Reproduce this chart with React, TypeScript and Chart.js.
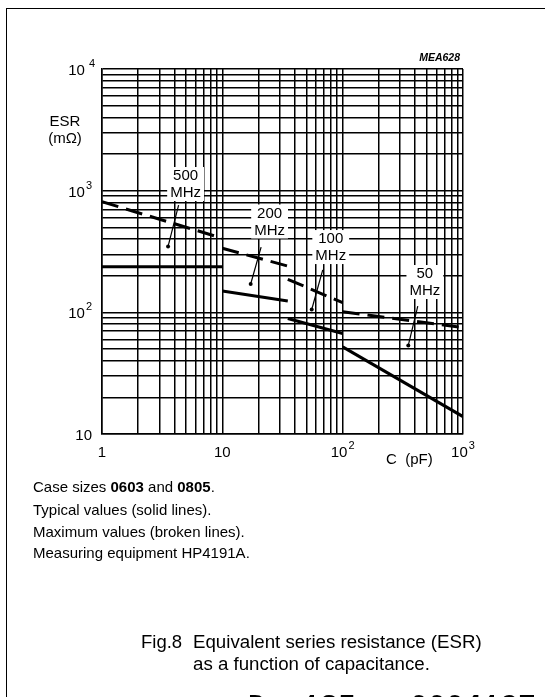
import React, { useEffect, useRef } from 'react';
import { Chart, registerables } from 'chart.js';

Chart.register(...registerables);

// ---------- data ----------
const seriesLabels = ['500 MHz', '200 MHz', '100 MHz', '50 MHz'];
const capacitanceSegments = [[1, 10], [10, 35], [35, 100], [100, 1000]];
const typicalESR = [[237, 237], [150, 124], [89, 67], [52, 13.9]];
const maximumESR = [[811, 406], [336, 240], [187, 120], [101, 75]];

const xTickValues = [1, 10, 100, 1000];
const xTickBase = ['1', '10', '10', '10'];
const xTickExp = ['', '', '2', '3'];
const yTickValues = [10, 100, 1000, 10000];
const yTickBase = ['10', '10', '10', '10'];
const yTickExp = ['', '2', '3', '4'];

// annotation labels (data coordinates)
const labelC = [4.95, 24.7, 79.6, 482];
const labelESR = [1134, 558, 344, 177.5];
const leaderTopC = [4.33, 21.0, 68.3, 421];
const leaderTopESR = [762, 344, 223, 112.7];
const leaderDotC = [3.54, 17.2, 55.3, 351];
const leaderDotESR = [348, 171, 105.5, 53.4];

const noteLines = [
  ['Case sizes ', '0603', ' and ', '0805', '.'],
  ['Typical values (solid lines).'],
  ['Maximum values (broken lines).'],
  ['Measuring equipment HP4191A.'],
];

const FONT = '"Liberation Sans", Arial, Helvetica, sans-serif';

function gridValues(minExp: number, maxExp: number) {
  const out: number[] = [];
  for (let e = minExp; e < maxExp; e++) {
    for (let d = 1; d <= 9; d++) out.push(d * Math.pow(10, e));
  }
  out.push(Math.pow(10, maxExp));
  return out;
}

const overlayPlugin = {
  id: 'overlay',
  afterDatasetsDraw(chart: any) {
    const ctx = chart.ctx;
    const xs = chart.scales.x;
    const ys = chart.scales.y;
    ctx.save();
    // annotation labels with leader lines
    for (let i = 0; i < seriesLabels.length; i++) {
      const [num, unit] = seriesLabels[i].split(' ');
      const cx = xs.getPixelForValue(labelC[i]);
      const cy = ys.getPixelForValue(labelESR[i]);
      ctx.font = `15px ${FONT}`;
      const w = Math.max(ctx.measureText(num).width, ctx.measureText(unit).width) + 6;
      ctx.fillStyle = '#fff';
      ctx.fillRect(cx - w / 2, cy - 17, w, 34);
      ctx.fillStyle = '#000';
      ctx.textAlign = 'center';
      ctx.textBaseline = 'middle';
      ctx.fillText(num, cx, cy - 8);
      ctx.fillText(unit, cx, cy + 9);
      const tx = xs.getPixelForValue(leaderTopC[i]);
      const ty = ys.getPixelForValue(leaderTopESR[i]);
      const dx = xs.getPixelForValue(leaderDotC[i]);
      const dy = ys.getPixelForValue(leaderDotESR[i]);
      ctx.strokeStyle = '#000';
      ctx.lineWidth = 1.2;
      ctx.beginPath();
      ctx.moveTo(tx, ty);
      ctx.lineTo(dx, dy);
      ctx.stroke();
      ctx.beginPath();
      ctx.arc(dx, dy, 2, 0, Math.PI * 2);
      ctx.fill();
    }
    ctx.restore();
  },
  afterDraw(chart: any) {
    const ctx = chart.ctx;
    const xs = chart.scales.x;
    const ys = chart.scales.y;
    ctx.save();
    ctx.fillStyle = '#000';
    ctx.textBaseline = 'middle';
    // x tick labels
    for (let i = 0; i < xTickValues.length; i++) {
      const px = xs.getPixelForValue(xTickValues[i]);
      ctx.font = `15px ${FONT}`;
      const bw = ctx.measureText(xTickBase[i]).width;
      ctx.font = `11px ${FONT}`;
      const ew = xTickExp[i] ? ctx.measureText(xTickExp[i]).width + 1 : 0;
      const left = px - (bw + ew) / 2;
      const y = chart.chartArea.bottom + 19;
      ctx.textAlign = 'left';
      ctx.font = `15px ${FONT}`;
      ctx.fillText(xTickBase[i], left, y);
      if (xTickExp[i]) {
        ctx.font = `11px ${FONT}`;
        ctx.fillText(xTickExp[i], left + bw + 1, y - 7);
      }
    }
    // y tick labels
    for (let i = 0; i < yTickValues.length; i++) {
      const py = ys.getPixelForValue(yTickValues[i]) + 2;
      const right = yTickExp[i] === '4' ? chart.chartArea.left - 7 : chart.chartArea.left - 10;
      ctx.font = `11px ${FONT}`;
      const gap = yTickExp[i] === '4' ? 4 : 1;
      const ew = yTickExp[i] ? ctx.measureText(yTickExp[i]).width + gap : 0;
      ctx.textAlign = 'right';
      if (yTickExp[i]) {
        ctx.fillText(yTickExp[i], right, py - 7);
      }
      ctx.font = `15px ${FONT}`;
      ctx.fillText(yTickBase[i], right - ew, py);
    }
    // axis titles
    ctx.textAlign = 'center';
    ctx.font = `15px ${FONT}`;
    ctx.fillText('ESR', 65, 122);
    ctx.fillText('(m\u03A9)', 65, 139);
    ctx.textAlign = 'left';
    ctx.fillText('C  (pF)', 386, chart.chartArea.bottom + 26);
    ctx.restore();
  },
};

export default function App() {
  const canvasRef = useRef<HTMLCanvasElement | null>(null);

  useEffect(() => {
    if (!canvasRef.current) return;
    const datasets: any[] = [];
    for (let i = 0; i < seriesLabels.length; i++) {
      datasets.push({
        label: seriesLabels[i] + ' typical',
        data: capacitanceSegments[i].map((c, j) => ({ x: c, y: typicalESR[i][j] })),
        borderColor: '#000',
        borderWidth: 3,
        pointRadius: 0,
        fill: false,
        borderCapStyle: 'butt',
      });
      datasets.push({
        label: seriesLabels[i] + ' maximum',
        data: capacitanceSegments[i].map((c, j) => ({ x: c, y: maximumESR[i][j] })),
        borderColor: '#000',
        borderWidth: 3,
        borderDash: [17, 8],
        pointRadius: 0,
        fill: false,
        borderCapStyle: 'butt',
      });
    }
    const xGrid = gridValues(0, 3);
    const yGrid = gridValues(1, 4);
    const chart = new Chart(canvasRef.current, {
      type: 'line',
      data: { datasets },
      plugins: [overlayPlugin],
      options: {
        responsive: false,
        animation: false,
        devicePixelRatio: 1,
        layout: { padding: { left: 0, right: 82, top: 69, bottom: 233 } },
        plugins: { legend: { display: false }, tooltip: { enabled: false } },
        scales: {
          x: {
            type: 'logarithmic',
            min: 1,
            max: 1000,
            afterBuildTicks: (s: any) => { s.ticks = xGrid.map((v) => ({ value: v })); },
            afterFit: (s: any) => { s.height = 30; },
            ticks: { display: false, autoSkip: false },
            grid: { color: '#000', lineWidth: 1.5, drawTicks: false },
            border: { color: '#000', width: 1.5 },
          },
          y: {
            type: 'logarithmic',
            min: 10,
            max: 10000,
            afterBuildTicks: (s: any) => { s.ticks = yGrid.map((v) => ({ value: v })); },
            afterFit: (s: any) => { s.width = 102; },
            ticks: { display: false, autoSkip: false },
            grid: { color: '#000', lineWidth: 1.5, drawTicks: false },
            border: { color: '#000', width: 1.5 },
          },
        },
      } as any,
    });
    return () => chart.destroy();
  }, []);

  return (
    <div style={{ position: 'absolute', left: 0, top: 0, width: 545, height: 697, overflow: 'hidden', background: '#fff', fontFamily: FONT, color: '#000' }}>
      <div style={{ position: 'absolute', left: 6, top: 8, width: 600, height: 800, borderLeft: '1.5px solid #000', borderTop: '1.5px solid #000' }} />
      <canvas ref={canvasRef} width={545} height={697} style={{ position: 'absolute', left: 0, top: 0 }} />
      <div style={{ position: 'absolute', left: 380, width: 80, top: 50, textAlign: 'right', fontSize: 10.5, fontWeight: 'bold', fontStyle: 'italic', lineHeight: '14px' }}>MEA628</div>
      {noteLines.map((parts, i) => (
        <div key={i} style={{ position: 'absolute', left: 33, top: [479, 502, 524, 545][i], fontSize: 15, lineHeight: '16px', whiteSpace: 'nowrap' }}>
          {parts.map((p, j) => (
            <span key={j} style={{ fontWeight: p === '0603' || p === '0805' ? 'bold' : 'normal' }}>{p}</span>
          ))}
        </div>
      ))}
      <div style={{ position: 'absolute', left: 141, top: 631, fontSize: 18.5, lineHeight: '22px', whiteSpace: 'nowrap' }}>Fig.8</div>
      <div style={{ position: 'absolute', left: 193, top: 631, fontSize: 18.7, lineHeight: '22px', whiteSpace: 'nowrap' }}>Equivalent series resistance (ESR)</div>
      <div style={{ position: 'absolute', left: 193, top: 653, fontSize: 18.7, lineHeight: '22px', whiteSpace: 'nowrap' }}>as a function of capacitance.</div>
      <div style={{ position: 'absolute', left: 248, top: 690, fontSize: 30, lineHeight: '34px', fontWeight: 'bold', fontFamily: '"Liberation Mono", "DejaVu Sans Mono", monospace', whiteSpace: 'pre' }}>{'D  185 \u25A0 0004127'}</div>
    </div>
  );
}
